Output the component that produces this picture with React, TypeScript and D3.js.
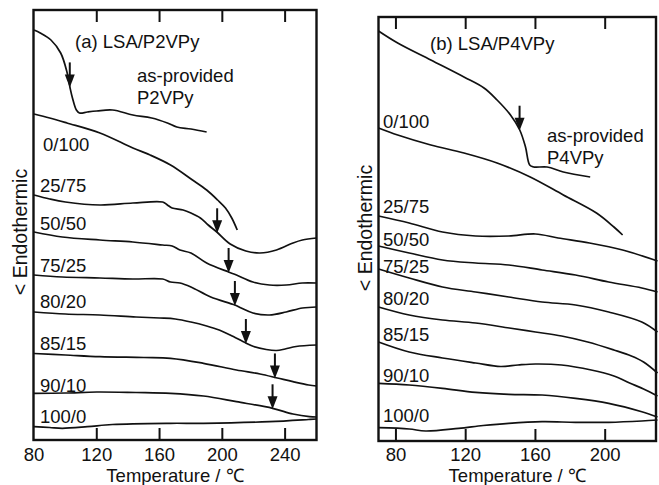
import React from 'react';
import * as d3 from 'd3';

type Pt = [number, number];

// temperature (°C), heat flow (arbitrary units, endotherm downward)
const p2vpyAsProvided: Pt[] = [[80, 41.0], [84, 40.7], [90.8, 40.0], [97, 38.7], [101, 36.8], [103, 35.2], [104.5, 34.2], [107, 33.0], [109, 32.7], [114, 32.8], [120, 32.9], [130, 33.0], [143, 32.5], [155, 32.2], [165, 31.7], [171, 31.3], [180, 31.1], [190, 30.8]];
const p2vpy0_100: Pt[] = [[80, 32.6], [90, 32.2], [101, 31.7], [122, 30.7], [143, 29.2], [154, 28.5], [167, 27.5], [181, 26.0], [190, 25.0], [197, 24.0], [202, 23.2], [206, 22.2], [209.5, 21.0]];
const p2vpy25_75: Pt[] = [[80, 24.5], [90, 24.1], [100, 23.8], [122, 23.5], [143, 23.7], [162, 23.8], [165, 23.5], [168, 23.2], [175, 23.0], [180, 22.7], [186, 22.2], [191, 21.5], [196.5, 20.8], [205, 19.6], [215, 18.9], [224, 18.7], [234.5, 19.0], [245, 19.7], [251, 20.0], [260, 20.2]];
const p2vpy50_50: Pt[] = [[80, 20.8], [98, 20.3], [122, 20.0], [143, 19.8], [162, 19.5], [168, 19.4], [173, 19.0], [180, 18.7], [190, 17.7], [204, 16.8], [209, 16.5], [219.5, 15.8], [230, 15.5], [240.7, 15.5], [251, 15.7], [260, 15.7]];
const p2vpy75_25: Pt[] = [[80, 16.5], [98, 16.3], [122, 16.2], [143, 16.1], [162, 16.1], [167, 15.8], [173, 15.7], [180, 15.3], [192.6, 14.3], [208, 13.5], [212, 13.2], [219.5, 12.7], [230, 12.5], [240.7, 12.8], [251, 13.2], [260, 13.3]];
const p2vpy80_20: Pt[] = [[80, 12.8], [100, 12.6], [122, 12.5], [145, 12.3], [160, 12.2], [170, 12.1], [180, 11.8], [190, 11.4], [198, 11.0], [205, 10.5], [215, 9.7], [220, 9.35], [228, 9.05], [234.5, 8.95], [240, 9.1], [247, 9.35], [260, 9.5]];
const p2vpy85_15: Pt[] = [[80, 8.65], [100, 8.5], [122, 8.33], [150, 8.25], [167, 8.17], [188, 7.67], [209, 7.0], [224, 6.6], [235, 6.2], [245, 5.83], [255, 5.5], [260, 5.4]];
const p2vpy90_10: Pt[] = [[80, 4.67], [100, 4.7], [120, 4.8], [145, 4.75], [167, 4.67], [188, 4.4], [209, 3.83], [232, 3.17], [245, 2.6], [255.5, 2.33], [260, 2.3]];
const p2vpy100_0: Pt[] = [[80, 1.33], [90, 1.25], [98, 1.17], [114, 1.33], [130, 1.55], [167, 1.67], [188, 1.67], [230, 1.83], [255, 2.05], [260, 2.1]];

const p4vpyAsProvided: Pt[] = [[70, 41.0], [81, 39.8], [100, 38.1], [119, 36.4], [130.5, 35.3], [138, 34.1], [145.7, 32.6], [151, 31.1], [154.3, 29.4], [156.7, 27.6], [159, 27.4], [166.7, 27.4], [176, 26.9], [191.4, 26.4]];
const p4vpy0_100: Pt[] = [[70, 31.3], [81, 30.6], [100, 29.6], [119, 28.8], [138, 27.8], [157, 26.4], [176, 24.6], [195, 22.8], [205, 21.4], [210, 20.6]];
const p4vpy25_75: Pt[] = [[70, 22.5], [87.6, 21.8], [106.7, 20.9], [125.7, 20.5], [144.7, 20.5], [160, 20.7], [173, 20.3], [191, 19.8], [210, 19.1], [230, 18.0]];
const p4vpy50_50: Pt[] = [[70, 19.5], [87.6, 18.8], [106.7, 18.1], [125.7, 17.8], [144.7, 17.6], [163.8, 17.1], [183, 16.6], [202, 15.9], [221, 15.3], [230, 14.9]];
const p4vpy75_25: Pt[] = [[70, 17.2], [87.6, 16.3], [106.7, 15.4], [125.7, 14.9], [144.7, 14.4], [163.8, 13.9], [183, 13.6], [202, 12.9], [221, 11.9], [230, 10.9]];
const p4vpy80_20: Pt[] = [[70, 13.4], [87.6, 12.6], [106.7, 12.1], [125.7, 11.8], [145, 11.3], [160, 10.9], [175, 10.5], [190, 9.9], [205, 9.1], [215, 8.5], [222, 7.9], [230, 6.8]];
const p4vpy85_15: Pt[] = [[70, 9.9], [87.6, 8.9], [106.7, 8.3], [125.7, 7.8], [140, 7.45], [150, 7.6], [160, 7.7], [175, 7.6], [192, 7.1], [205, 6.5], [214, 5.8], [222, 5.2], [230, 4.5]];
const p4vpy90_10: Pt[] = [[70, 5.77], [87.6, 5.6], [106.7, 5.27], [125.7, 4.87], [144.7, 4.67], [163.8, 4.6], [183, 4.27], [202, 3.77], [221, 2.93], [230, 2.4]];
const p4vpy100_0: Pt[] = [[70, 1.33], [87.6, 1.2], [97, 1.0], [116, 1.27], [130, 1.55], [144.7, 1.77], [163.8, 1.93], [183, 1.87], [202, 1.87], [221, 2.0], [230, 2.1]];

const leftCurves = [p2vpyAsProvided, p2vpy0_100, p2vpy25_75, p2vpy50_50, p2vpy75_25, p2vpy80_20, p2vpy85_15, p2vpy90_10, p2vpy100_0];
const rightCurves = [p4vpyAsProvided, p4vpy0_100, p4vpy25_75, p4vpy50_50, p4vpy75_25, p4vpy80_20, p4vpy85_15, p4vpy90_10, p4vpy100_0];

// Tg arrows: [curve index, temperature]
const leftArrows: [number, number][] = [[0, 102.8], [2, 196.7], [3, 204], [4, 208], [5, 215], [6, 233.5], [7, 232]];
const rightArrows: [number, number][] = [[0, 150.9]];

const ratioLabels = ['0/100', '25/75', '50/50', '75/25', '80/20', '85/15', '90/10', '100/0'];
const leftTicks = [80, 120, 160, 200, 240];
const rightTicks = [80, 120, 160, 200];

const FONT = '"Liberation Sans", Arial, Helvetica, sans-serif';

// label placement (px)
const leftLabelPos = [[43, 151], [40, 192], [40, 230], [40, 272], [40, 308], [40, 350], [40, 392], [40, 423]];
const rightLabelPos = [[383, 128], [383, 213], [383, 246], [383, 273], [383, 305], [383, 341], [383, 382], [383, 422]];

function valueAt(data: Pt[], t: number) {
  const i = d3.bisector((d: Pt) => d[0]).left(data, t);
  if (i <= 0) return data[0][1];
  if (i >= data.length) return data[data.length - 1][1];
  const [x0, y0] = data[i - 1];
  const [x1, y1] = data[i];
  return y0 + (y1 - y0) * (t - x0) / (x1 - x0);
}

const Panel = ({ cfg }: { cfg: any }) => {
  const x = d3.scaleLinear().domain(cfg.xDomain).range(cfg.xRange);
  const y = d3.scaleLinear().domain(cfg.yDomain).range(cfg.yRange);
  const line = d3.line<Pt>().x(d => x(d[0])).y(d => y(d[1])).curve(d3.curveCatmullRom.alpha(0.5));
  const { x0, x1, y0, y1 } = cfg.frame;
  return (
    <g>
      {cfg.curves.map((c: Pt[], i: number) => (
        <path key={i} d={line(c) || ''} fill="none" stroke="#111" strokeWidth={1.7} strokeLinejoin="round" />
      ))}
      {cfg.arrows.map(([ci, t]: [number, number], i: number) => {
        const ax = x(t);
        const ay = y(valueAt(cfg.curves[ci], t)) + 1;
        return (
          <g key={i}>
            <line x1={ax} x2={ax} y1={ay - 25} y2={ay - 10} stroke="#111" strokeWidth={2} />
            <path d={`M${ax - 5},${ay - 13} L${ax + 5},${ay - 13} L${ax},${ay} Z`} fill="#111" />
          </g>
        );
      })}
      <rect x={x0} y={y0} width={x1 - x0} height={y1 - y0} fill="none" stroke="#111" strokeWidth={2.4} />
      {cfg.ticks.filter((t: number) => x(t) > x0 + 3).map((t: number) => (
        <g key={t}>
          <line x1={x(t)} x2={x(t)} y1={y0} y2={y0 + 12} stroke="#111" strokeWidth={2} />
          <line x1={x(t)} x2={x(t)} y1={y1} y2={y1 - 12} stroke="#111" strokeWidth={2} />
        </g>
      ))}
      {cfg.ticks.map((t: number) => (
        <text key={t} x={x(t)} y={460.5} textAnchor="middle" fontSize={18.5}>{t}</text>
      ))}
      <text x={(x0 + x1) / 2} y={482} textAnchor="middle" fontSize={18.5}>Temperature / ℃</text>
      <text transform={`translate(${cfg.yTitleX},${cfg.yTitleY}) rotate(-90)`} textAnchor="middle" fontSize={19.5}>{'< Endothermic'}</text>
      <text x={cfg.titlePos[0]} y={cfg.titlePos[1]} fontSize={18.5}>{cfg.title}</text>
      <text x={cfg.asProvidedPos[0]} y={cfg.asProvidedPos[1]} fontSize={18.5}>as-provided</text>
      <text x={cfg.asProvidedPos[0]} y={cfg.asProvidedPos[1] + 21.5} fontSize={18.5}>{cfg.polymer}</text>
      {ratioLabels.map((l, i) => (
        <text key={l} x={cfg.labelPos[i][0]} y={cfg.labelPos[i][1]} fontSize={18.5}>{l}</text>
      ))}
    </g>
  );
};

const panels = [
  {
    title: '(a) LSA/P2VPy', polymer: 'P2VPy', titlePos: [75, 48], asProvidedPos: [137, 82],
    xDomain: [80, 260], xRange: [34, 316.5], yDomain: [0, 43], yRange: [440, 10],
    frame: { x0: 33.5, x1: 316.5, y0: 10, y1: 440 }, ticks: leftTicks,
    curves: leftCurves, arrows: leftArrows, labelPos: leftLabelPos, yTitleX: 26.5, yTitleY: 232,
  },
  {
    title: '(b) LSA/P4VPy', polymer: 'P4VPy', titlePos: [430, 50], asProvidedPos: [547, 142],
    xDomain: [70, 230], xRange: [378.5, 657.5], yDomain: [0, 42.4], yRange: [441, 17],
    frame: { x0: 378.5, x1: 656, y0: 17, y1: 441 }, ticks: rightTicks,
    curves: rightCurves, arrows: rightArrows, labelPos: rightLabelPos, yTitleX: 371.5, yTitleY: 228,
  },
];

export default function App() {
  return (
    <svg width={659} height={485} style={{ position: 'absolute', left: 0, top: 0, background: '#fff' }}
      fontFamily={FONT} fill="#111">
      {panels.map((p, i) => <Panel key={i} cfg={p} />)}
    </svg>
  );
}
